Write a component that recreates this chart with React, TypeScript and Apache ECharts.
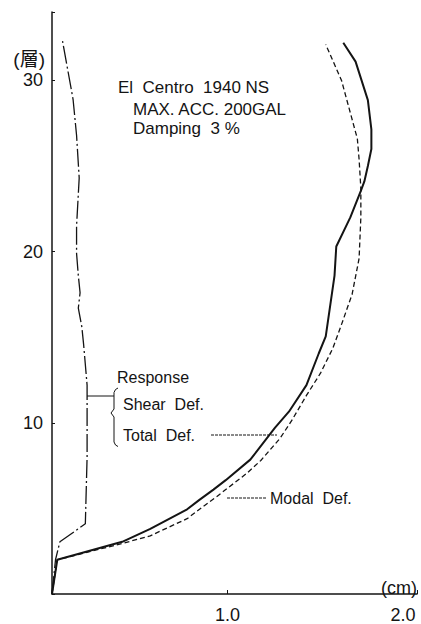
import React, { useEffect, useRef } from "react";
import * as echarts from "echarts";

// Total Def. (solid)
const totalDefX = [0, 0.03, 0.4, 0.56, 0.77, 0.84, 0.92, 0.99, 1.13, 1.27, 1.35, 1.45, 1.52, 1.56, 1.61, 1.62, 1.7, 1.76, 1.78, 1.8, 1.82, 1.82, 1.8, 1.73, 1.66];
const totalDefFloor = [0, 2, 3.05, 3.8, 4.95, 5.5, 6.1, 6.65, 7.85, 9.7, 10.65, 12.2, 14.05, 15.05, 18.6, 20.3, 22, 23.55, 24.1, 25, 26, 27.15, 28.85, 31.1, 32.2];

// Modal Def. (dashed)
const modalDefX = [0, 0.03, 0.4, 0.56, 0.77, 0.86, 0.94, 0.99, 1.11, 1.19, 1.3, 1.37, 1.45, 1.53, 1.6, 1.65, 1.71, 1.75, 1.76, 1.76, 1.75, 1.74, 1.65, 1.56];
const modalDefFloor = [0, 2, 2.95, 3.4, 4.4, 5.1, 5.7, 6.1, 7.05, 7.8, 9.1, 10.2, 11.6, 12.9, 14.35, 15.75, 17.5, 19.6, 22, 23.7, 25.4, 26.6, 30, 32.1];

// Response Shear Def. (dash-dot)
const shearDefX = [0, 0.02, 0.045, 0.19, 0.2, 0.2, 0.18, 0.17, 0.15, 0.16, 0.15, 0.14, 0.14, 0.155, 0.14, 0.12, 0.06];
const shearDefFloor = [0, 2, 3.05, 4.1, 8, 12.2, 14.6, 15.6, 16.7, 17.6, 18.6, 19.9, 21.5, 24.3, 26.8, 28.9, 32.3];

const yTicks = [10, 20, 30];
const xTicks = [1, 2];

const FONT = "'Liberation Sans', Arial, 'Noto Sans CJK JP', sans-serif";
const INK = "#141414";

const pairs = (xs: number[], ys: number[]) => xs.map((x, i) => [x, ys[i]]);

export default function App() {
  const ref = useRef<HTMLDivElement>(null);
  useEffect(() => {
    if (!ref.current) return;
    const chart = echarts.init(ref.current, undefined, { renderer: "svg" });
    const txt = (text: string, x: number, y: number, size = 16, align = "left") => ({
      type: "text",
      x,
      y,
      style: { text, font: `${size}px ${FONT}`, fill: INK, align, verticalAlign: "middle" },
    });
    chart.setOption({
      animation: false,
      backgroundColor: "#ffffff",
      grid: { left: 52, right: 4, top: 12, bottom: 17, containLabel: false },
      xAxis: {
        type: "value",
        min: 0,
        max: 2.08,
        interval: 1,
        axisLine: { show: true, lineStyle: { color: INK, width: 1.5 } },
        axisTick: { show: true, inside: true, length: 4, lineStyle: { color: INK } },
        splitLine: { show: false },
        axisLabel: {
          margin: 12,
          fontSize: 18,
          fontFamily: FONT,
          color: INK,
          formatter: (v: number) => (xTicks.includes(v) ? v.toFixed(1) : ""),
        },
      },
      yAxis: {
        type: "value",
        min: 0,
        max: 34,
        interval: 10,
        axisLine: { show: true, lineStyle: { color: INK, width: 1.5 } },
        axisTick: { show: true, inside: true, length: 3, lineStyle: { color: INK } },
        splitLine: { show: false },
        axisLabel: {
          margin: 9,
          fontSize: 18,
          fontFamily: FONT,
          color: INK,
          formatter: (v: number) => (yTicks.includes(v) ? String(v) : ""),
        },
      },
      series: [
        {
          name: "Total Def.",
          type: "line",
          data: pairs(totalDefX, totalDefFloor),
          showSymbol: false,
          lineStyle: { color: INK, width: 2 },
        },
        {
          name: "Modal Def.",
          type: "line",
          data: pairs(modalDefX, modalDefFloor),
          showSymbol: false,
          lineStyle: { color: INK, width: 1.3, type: [5, 3] },
        },
        {
          name: "Shear Def.",
          type: "line",
          data: pairs(shearDefX, shearDefFloor),
          showSymbol: false,
          lineStyle: { color: INK, width: 1.3, type: [18, 3, 2, 3] },
        },
      ],
      graphic: [
        txt("(層)", 45, 59, 19, "right"),
        txt("El  Centro  1940 NS", 118, 87, 17),
        txt("MAX. ACC. 200GAL", 133, 109, 17),
        txt("Damping  3 %", 133, 128, 17),
        txt("Response", 117, 377, 16),
        txt("Shear  Def.", 123, 404, 16),
        txt("Total  Def.", 123, 435, 16),
        txt("Modal  Def.", 270, 498, 16),
        txt("(cm)", 417, 588, 18, "right"),
        {
          type: "line",
          shape: { x1: 87, y1: 396, x2: 114, y2: 396 },
          style: { stroke: INK, lineWidth: 1 },
        },
        {
          type: "polyline",
          shape: {
            points: [
              [118, 388], [115.5, 389.5], [114, 392.5], [114, 409], [111, 413],
              [114, 417], [114, 442], [115.5, 445], [118, 446.5],
            ],
          },
          style: { stroke: INK, lineWidth: 1, fill: "none" },
        },
        {
          type: "line",
          shape: { x1: 211, y1: 435, x2: 277, y2: 435 },
          style: { stroke: INK, lineWidth: 1, lineDash: [3, 1] },
        },
        {
          type: "line",
          shape: { x1: 227, y1: 498, x2: 267, y2: 498 },
          style: { stroke: INK, lineWidth: 1, lineDash: [3, 1] },
        },
      ],
    });
    return () => chart.dispose();
  }, []);
  return (
    <div
      ref={ref}
      style={{ position: "fixed", left: 0, top: 0, width: 421, height: 624, background: "#fff" }}
    />
  );
}
